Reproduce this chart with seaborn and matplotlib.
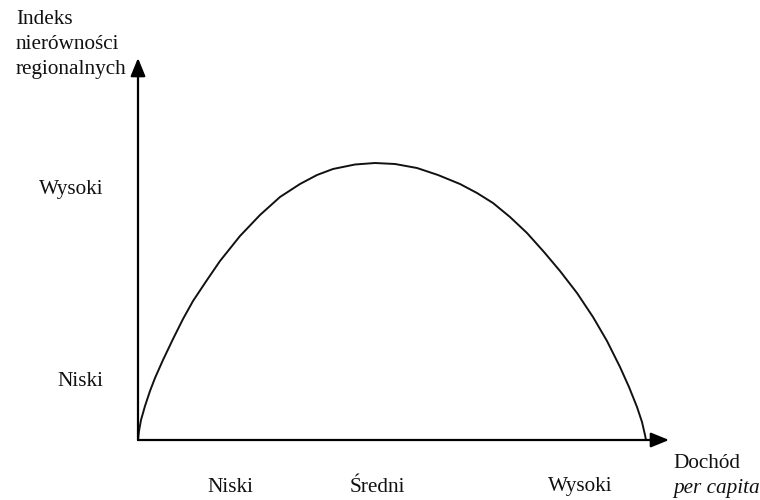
import matplotlib
matplotlib.use("Agg")
import matplotlib.pyplot as plt
import seaborn as sns
import pandas as pd

# krzywa Williamsona - punkty
income = [0, 1, 3, 7, 12, 17, 25, 35, 45, 55, 69, 82, 102, 122, 142, 162,
          179, 195, 217, 237, 257, 279, 300, 322, 339, 355, 372, 389, 406,
          422, 439, 455, 469, 482, 491, 499, 504, 507, 508]
inequality = [0, 9, 20, 34, 49, 62, 80, 101, 121, 139, 160, 179, 204, 225,
              243, 256, 265, 271, 275.5, 277, 276, 272, 265, 256, 247, 237,
              223, 207, 188, 169, 147, 123, 99, 73, 53, 33, 18, 5, 0]

x_levels = [92, 239, 442]
x_labels = ['Niski', 'Średni', 'Wysoki']
y_levels = [61, 253]
y_labels = ['Niski', 'Wysoki']

x_max = 531
y_max = 382

sns.set_theme(style="white")
plt.rcParams['font.family'] = ['Liberation Serif', 'DejaVu Serif']

df = pd.DataFrame({'income': income, 'inequality': inequality})

fig = plt.figure(figsize=(7.6, 5), dpi=100)
ax = fig.add_axes([138 / 760, 60 / 500, x_max / 760, y_max / 500])

sns.lineplot(data=df, x='income', y='inequality', ax=ax, color='#111111',
             linewidth=1.4, sort=False, estimator=None, clip_on=False)

ax.set_xlim(0, x_max)
ax.set_ylim(0, y_max)
for sp in ax.spines.values():
    sp.set_visible(False)

arrow = dict(arrowstyle='-|>,head_length=1.1,head_width=0.45', lw=1.6,
             color='black', shrinkA=0, shrinkB=0, mutation_scale=10)
ax.annotate('', xy=(x_max, 0), xytext=(0, 0), arrowprops=arrow,
            annotation_clip=False)
ax.annotate('', xy=(0, y_max), xytext=(0, 0), arrowprops=arrow,
            annotation_clip=False)

fs = 15.3
ax.set_xticks(x_levels, x_labels)
ax.set_yticks(y_levels, y_labels)
ax.tick_params(axis='x', length=0, pad=27, labelsize=fs, colors='#111111')
ax.tick_params(axis='y', length=0, pad=25, labelsize=fs, colors='#111111')
ax.set_xlabel('')
ax.set_ylabel('')

fig.text(16 / 760, 1 - 10 / 500, 'Indeks\nnierówności\nregionalnych',
         ha='left', va='top', fontsize=fs, color='#111111', linespacing=1.42)
fig.text(673 / 760, 1 - 464 / 500, 'Dochód', ha='left', va='center',
         fontsize=fs, color='#111111')
fig.text(673 / 760, 1 - 488 / 500, 'per capita', ha='left', va='center',
         fontsize=fs, style='italic', color='#111111')

fig.savefig('out.png', dpi=100, facecolor='white')
